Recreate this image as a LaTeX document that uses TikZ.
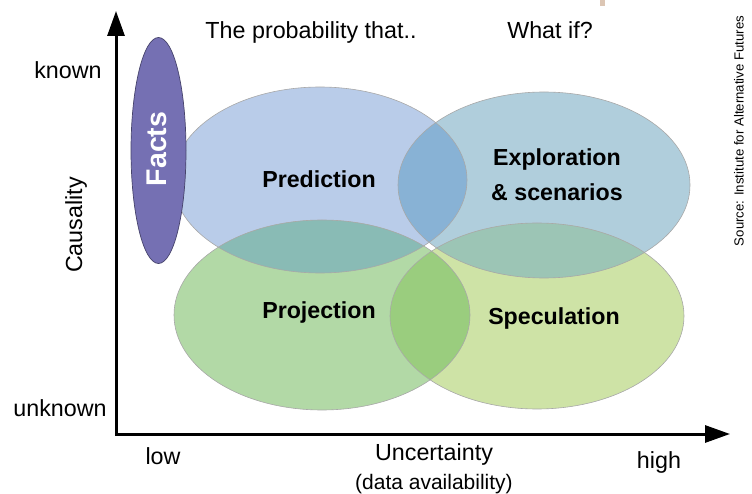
\documentclass[tikz,border=0pt]{standalone}
\usepackage{fontspec}
\setmainfont{Liberation Sans}
\usetikzlibrary{arrows.meta}
\definecolor{cPred}{HTML}{B9CCE9}
\definecolor{cExpl}{HTML}{B0CEDC}
\definecolor{cProj}{HTML}{B2D9A6}
\definecolor{cSpec}{HTML}{CEE3A6}
\definecolor{cPE}{HTML}{88B2D5}
\definecolor{cPP}{HTML}{89BBB5}
\definecolor{cES}{HTML}{9CC5B5}
\definecolor{cPS}{HTML}{9ACD7E}
\definecolor{cFacts}{HTML}{7570B3}
\definecolor{cEdge}{HTML}{A8A8A8}
\definecolor{cBeige}{HTML}{DCC6B4}
\tikzset{
  axislbl/.style={font=\fontsize{23.3}{27}\selectfont, anchor=base, inner sep=0pt},
  boldlbl/.style={font=\fontsize{23.2}{27}\selectfont\bfseries, anchor=base, inner sep=0pt},
  smalllbl/.style={font=\fontsize{21}{25}\selectfont, anchor=base, inner sep=0pt},
  edge/.style={draw=cEdge, line width=0.6pt},
}
\newcommand{\predpath}{(320,180) ellipse [x radius=147, y radius=93]}
\newcommand{\explpath}{(544,185) ellipse [x radius=146, y radius=93]}
\newcommand{\projpath}{(322,315) ellipse [x radius=148, y radius=95]}
\newcommand{\specpath}{(537,316) ellipse [x radius=147, y radius=93]}
\begin{document}
\begin{tikzpicture}[x=1pt, y=-1pt]
\useasboundingbox (0,0) rectangle (752,494);
\fill[cBeige] (600,0) rectangle (605,6);
% ellipses
\fill[cPred] \predpath;
\fill[cExpl] \explpath;
\fill[cProj] \projpath;
\fill[cSpec] \specpath;
\begin{scope}\clip \predpath; \fill[cPP] \projpath; \end{scope}
\begin{scope}\clip \explpath; \fill[cES] \specpath; \end{scope}
\begin{scope}\clip \predpath; \fill[cPE] \explpath; \end{scope}
\begin{scope}\clip \projpath; \fill[cPS] \specpath; \end{scope}
\draw[edge] \predpath;
\draw[edge] \explpath;
\draw[edge] \projpath;
\draw[edge] \specpath;
% facts
\draw[fill=cFacts, draw=cFacts!60!black, line width=0.7pt] (158.5,150.5) ellipse [x radius=27.5, y radius=113];
\node[rotate=90, text=white, font=\fontsize{28.5}{32}\selectfont\bfseries, inner sep=0pt] (facts) at (157,149) {Facts};
% axes
\coordinate (O) at (116,434);
\coordinate (ytop) at (116,11);
\coordinate (xend) at (730,434);
\draw[line width=3pt, line join=miter, {Triangle[length=25pt,width=17pt]}-{Triangle[length=25pt,width=17pt]}] (ytop) -- (O) -- (xend);
% labels
\node[axislbl] (top1) at (311,39) {The probability that..};
\node[axislbl] (top2) at (550,39) {What if?};
\node[axislbl] (known) at (68,79) {known};
\node[axislbl] (unknown) at (60,416) {unknown};
\node[axislbl, rotate=90, anchor=center] (caus) at (76,225) {Causality};
\node[axislbl] (low) at (163,464) {low};
\node[axislbl] (unc) at (434,460) {Uncertainty};
\node[smalllbl] (avail) at (434,489) {(data availability)};
\node[axislbl] (high) at (659,468) {high};
\node[boldlbl] (pred) at (319,188) {Prediction};
\node[boldlbl] (expl) at (557,166) {Exploration};
\node[boldlbl] (scen) at (557,201) {\& scenarios};
\node[boldlbl] (proj) at (319,318) {Projection};
\node[boldlbl] (spec) at (554,324) {Speculation};
\node[rotate=90, font=\fontsize{13.2}{15}\selectfont, inner sep=0pt] (src) at (739,131) {Source: Institute for Alternative Futures};
\end{tikzpicture}
\end{document}
